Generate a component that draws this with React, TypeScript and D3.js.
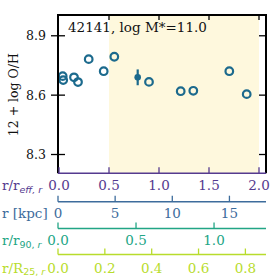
import React from 'react';
import * as d3 from 'd3';

// spaxel radii (r / r_eff) and metallicities
const rEff = [0.037, 0.042, 0.15, 0.19, 0.297, 0.447, 0.553, 0.9, 1.217, 1.343, 1.703, 1.877];
const logOH = [8.696, 8.676, 8.69, 8.666, 8.782, 8.721, 8.794, 8.667, 8.62, 8.622, 8.721, 8.605];

// median point with error bar
const medR = [0.787];
const medOH = [8.69];
const medErr = [0.04];

const yTicks = [8.3, 8.6, 8.9];
const effTicks = [0, 0.5, 1.0, 1.5, 2.0];
const kpcTicks = [0, 5, 10, 15];
const r90Ticks = [0, 0.5, 1.0];
const r25Ticks = [0, 0.2, 0.4, 0.6, 0.8];
const shadeRange = [0.5, 2.0];

const title = '42141, log M*=11.0';

const W = 277;
const H = 277;
const left = 58;
const right = 266;
const top = 15;
const bottom = 173.3;

const serif = 'DejaVu Serif, serif';
const sans = 'DejaVu Sans, sans-serif';

const cPurple = '#553a8f';
const cBlue = '#3d6c9c';
const cGreen = '#22a585';
const cYellow = '#b8dc2c';
const cMarker = '#1c6a8d';

const x = d3.scaleLinear().domain([-0.01, 2.07]).range([left, right]);
const y = d3.scaleLinear().domain([8.205, 9.005]).range([bottom, top]);
const xKpc = d3.scaleLinear().domain([0, 18.2]).range([left, right]);
const x90 = d3.scaleLinear().domain([0, 1.333]).range([left, right]);
const x25 = d3.scaleLinear().domain([0, 0.888]).range([left, right]);

const fmt1 = d3.format('.1f');
const axFont = 13.5;
const subFont = 9.5;

function SubAxis(props: {
  scale: d3.ScaleLinear<number, number>;
  ticks: number[];
  lineY: number;
  labelY: number;
  color: string;
  fmt: (v: number) => string;
}) {
  const { scale, ticks, lineY, labelY, color, fmt } = props;
  return (
    <g>
      <line x1={left} x2={right} y1={lineY} y2={lineY} stroke={color} strokeWidth={1.5} />
      {ticks.map((t) => (
        <g key={t}>
          <line x1={scale(t)} x2={scale(t)} y1={lineY} y2={lineY - 6} stroke={color} strokeWidth={1.3} />
          <text x={scale(t)} y={labelY} fill={color} fontSize={axFont} textAnchor="middle" fontFamily={serif}>
            {fmt(t)}
          </text>
        </g>
      ))}
    </g>
  );
}

export default function App() {
  return (
    <svg
      width={W}
      height={H}
      style={{ position: 'absolute', left: 0, top: 0, background: '#fff' }}
      fontFamily={serif}
    >
      {/* shaded radial range */}
      <rect
        x={x(shadeRange[0])}
        y={top}
        width={x(shadeRange[1]) - x(shadeRange[0])}
        height={bottom - top}
        fill="#fef8dd"
      />

      {/* y ticks */}
      {yTicks.map((t) => (
        <g key={t}>
          <line x1={left - 7} x2={left + 7} y1={y(t)} y2={y(t)} stroke="#000" strokeWidth={1.3} />
          <line x1={right - 7} x2={right} y1={y(t)} y2={y(t)} stroke="#000" strokeWidth={1.3} />
          <text x={left - 12} y={y(t)} dy="0.35em" textAnchor="end" fontSize={12.5} fill="#111">
            {fmt1(t)}
          </text>
        </g>
      ))}

      {/* top inward ticks */}
      {effTicks.slice(1).map((t) => (
        <line key={t} x1={x(t)} x2={x(t)} y1={top} y2={top + 5} stroke="#000" strokeWidth={1.3} />
      ))}

      {/* data */}
      {rEff.map((r, i) => (
        <circle key={i} cx={x(r)} cy={y(logOH[i])} r={3.8} fill="none" stroke={cMarker} strokeWidth={2.2} />
      ))}
      {medR.map((r, i) => (
        <g key={'m' + i}>
          <line
            x1={x(r)}
            x2={x(r)}
            y1={y(medOH[i] - medErr[i])}
            y2={y(medOH[i] + medErr[i])}
            stroke={cMarker}
            strokeWidth={2.2}
          />
          <circle cx={x(r)} cy={y(medOH[i])} r={3.3} fill={cMarker} />
        </g>
      ))}

      <text x={68} y={32} fontSize={13.5} fill="#111">
        {title}
      </text>

      {/* frame */}
      <line x1={left} x2={left} y1={top} y2={bottom} stroke="#000" strokeWidth={2} />
      <line x1={right} x2={right} y1={top} y2={bottom} stroke="#000" strokeWidth={2} />
      <line x1={left - 1} x2={right + 1} y1={top} y2={top} stroke="#000" strokeWidth={2} />

      <text transform={`translate(18,${(top + bottom) / 2 + 0.5}) rotate(-90)`} textAnchor="middle" fontSize={12.5} fill="#111">
        12 + log O/H
      </text>

      {/* bottom axis r/r_eff (bottom spine) */}
      <SubAxis scale={x} ticks={effTicks} lineY={bottom} labelY={190} color={cPurple} fmt={fmt1} />
      <SubAxis scale={xKpc} ticks={kpcTicks} lineY={201.7} labelY={217.5} color={cBlue} fmt={d3.format('d')} />
      <SubAxis scale={x90} ticks={r90Ticks} lineY={228.5} labelY={245} color={cGreen} fmt={fmt1} />
      <SubAxis scale={x25} ticks={r25Ticks} lineY={254.5} labelY={272.5} color={cYellow} fmt={fmt1} />

      {/* axis names */}
      <text x={2} y={190} fontSize={axFont} fill={cPurple}>
        r/r
        <tspan fontFamily={sans} fontStyle="italic" fontSize={subFont} dy={2.5}>eff, r</tspan>
      </text>
      <text x={2} y={217.5} fontSize={axFont} fill={cBlue}>
        r [kpc]
      </text>
      <text x={2} y={245} fontSize={axFont} fill={cGreen}>
        r/r
        <tspan fontFamily={sans} fontSize={subFont} dy={2.5}>90, </tspan>
        <tspan fontFamily={sans} fontStyle="italic" fontSize={subFont}>r</tspan>
      </text>
      <text x={2} y={272.5} fontSize={axFont} fill={cYellow}>
        r/R
        <tspan fontFamily={sans} fontSize={subFont} dy={2.5}>25, </tspan>
        <tspan fontFamily={sans} fontStyle="italic" fontSize={subFont}>r</tspan>
      </text>
    </svg>
  );
}
